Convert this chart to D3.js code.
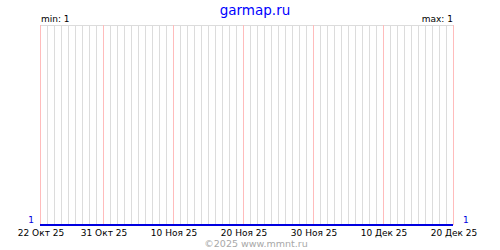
<!DOCTYPE html>
<html>
<head>
<meta charset="utf-8">
<script src="https://cdn.jsdelivr.net/npm/d3@7"></script>
<style>
  body { margin: 0; background: #fff; }
  text { font-family: "DejaVu Sans", Verdana, sans-serif; }
</style>
</head>
<body>
<div id="chart"></div>
<script>
// one value per day, 22 Oct 2025 .. 20 Dec 2025
const startDate = "2025-10-22", endDate = "2025-12-20";
const values = [1,1,1,1,1,1,1,1,1,1, 1,1,1,1,1,1,1,1,1,1,
                1,1,1,1,1,1,1,1,1,1, 1,1,1,1,1,1,1,1,1,1,
                1,1,1,1,1,1,1,1,1,1, 1,1,1,1,1,1,1,1,1,1];
const tickDates = ["2025-10-22", "2025-10-31", "2025-11-10", "2025-11-20", "2025-11-30", "2025-12-10", "2025-12-20"];
const tickLabels = ["22 Окт 25", "31 Окт 25", "10 Ноя 25", "20 Ноя 25", "30 Ноя 25", "10 Дек 25", "20 Дек 25"];
const title = "garmap.ru", footer = "©2025 www.mmnt.ru";

let width = 500, height = 250;
let margin = {left: 40, right: 47, top: 25, bottom: 25};

let svg = d3.select("#chart").append("svg")
    .attr("width", width)
    .attr("height", height);

let parse = d3.utcParse("%Y-%m-%d");
let t0 = parse(startDate), t1 = parse(endDate);
let data = values.map(function(v, i) { return {date: d3.utcDay.offset(t0, i), value: v}; });

let x = d3.scaleUtc()
    .domain([t0, t1])
    .range([margin.left, width - margin.right]);

let minV = d3.min(values), maxV = d3.max(values);
let y = d3.scaleLinear()
    .domain([minV, maxV === minV ? minV + 1 : maxV])
    .range([height - margin.bottom, margin.top]);

// daily grid
svg.append("g").selectAll("line")
    .data(d3.utcDay.range(t0, d3.utcDay.offset(t1, 1)))
    .enter().append("line")
    .attr("x1", d => x(d) + 0.5).attr("x2", d => x(d) + 0.5)
    .attr("y1", margin.top).attr("y2", height - margin.bottom)
    .attr("stroke", "#dcdcdc");

svg.append("line")
    .attr("x1", margin.left).attr("x2", width - margin.right + 1)
    .attr("y1", margin.top + 0.5).attr("y2", margin.top + 0.5)
    .attr("stroke", "#dcdcdc");

// marked dates
let ticks = tickDates.map(parse);
svg.append("g").selectAll("line")
    .data(ticks)
    .enter().append("line")
    .attr("x1", d => x(d) + 0.5).attr("x2", d => x(d) + 0.5)
    .attr("y1", margin.top).attr("y2", height - margin.bottom)
    .attr("stroke", "#ffbcbc");

// series
svg.append("path")
    .datum(data)
    .attr("fill", "none")
    .attr("stroke", "#0000e0")
    .attr("stroke-width", 2)
    .attr("d", d3.line().x(d => x(d.date)).y(d => y(d.value)));

// x axis labels
svg.append("g").selectAll("text")
    .data(ticks)
    .enter().append("text")
    .attr("x", d => x(d) + 1)
    .attr("y", height - margin.bottom + 11)
    .style("font-size", "9px")
    .style("text-anchor", "middle")
    .text((d, i) => tickLabels[i]);

// min / max
svg.append("text")
    .attr("x", margin.left + 1).attr("y", margin.top - 3)
    .style("font-size", "9px")
    .text("min: " + minV);
svg.append("text")
    .attr("x", width - margin.right).attr("y", margin.top - 3)
    .style("font-size", "9px")
    .style("text-anchor", "end")
    .text("max: " + maxV);

// value at ends
svg.append("text")
    .attr("x", margin.left - 6).attr("y", y(values[0]) - 2)
    .style("font-size", "9px").style("fill", "#0000e0")
    .style("text-anchor", "end")
    .text(values[0]);
svg.append("text")
    .attr("x", width - margin.right + 10).attr("y", y(values[values.length - 1]) - 2)
    .style("font-size", "9px").style("fill", "#0000e0")
    .text(values[values.length - 1]);

// title + footer
svg.append("text")
    .attr("x", width / 2 + 5).attr("y", 15)
    .style("font-size", "13.5px").style("fill", "#0000ff")
    .style("text-anchor", "middle")
    .text(title);
svg.append("text")
    .attr("x", 256).attr("y", height - 3)
    .style("font-size", "9.5px").style("fill", "#a8a8a8")
    .style("text-anchor", "middle")
    .text(footer);
</script>
</body>
</html>
